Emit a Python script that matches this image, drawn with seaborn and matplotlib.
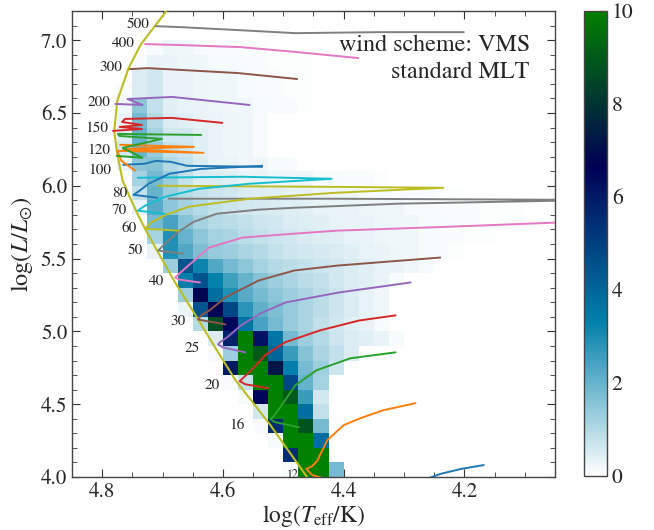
import numpy as np
import matplotlib
matplotlib.use("Agg")
import matplotlib.pyplot as plt
from matplotlib.ticker import MultipleLocator
import seaborn as sns

# ---------------------------------------------------------------- histogram grid
# columns are 0.025 dex wide in log Teff, counted from 4.775 towards cooler
# temperatures; rows are 0.1 dex tall in log L, counted from 4.0 upwards.
T_HOT, DT = 4.775, 0.025
L_LOW, DL = 4.0, 0.1

# log L row edge -> (first column, number of models per cell)
hist_rows = {
    4.0: (11, [0.15, 10, 10, 1.8]),
    4.1: (11, [5.5, 10, 10]),
    4.2: (10, [0.15, 10, 10, 3.8]),
    4.3: (9, [0.1, 5.5, 10, 8.8, 1.8]),
    4.4: (9, [0.6, 10, 10, 3.8, 0.8]),
    4.5: (8, [0.1, 6.5, 10, 9.0, 2.6, 0.6]),
    4.6: (7, [0.1, 0.8, 10, 10, 4.8, 2.0, 1.2]),
    4.7: (7, [6.0, 10, 10, 7.2, 3.4, 1.8, 1.3, 0.7]),
    4.8: (6, [0.1, 1.3, 10, 9.0, 4.0, 2.6, 1.6, 1.1, 0.8, 0.5]),
    4.9: (6, [0.5, 5.8, 10, 6.2, 3.6, 1.8, 1.3, 1.0, 0.7, 0.5, 0.4, 0.3, 0.15]),
    5.0: (5, [1.0, 8.7, 6.5, 3.6, 2.4, 1.8, 1.4, 1.1, 0.8, 0.6, 0.4, 0.3, 0.15]),
    5.1: (4, [0.3, 4.5, 6.8, 4.8, 2.8, 2.1, 1.7, 1.4, 1.1, 0.9, 0.7, 0.5, 0.35, 0.2]),
    5.2: (4, [1.3, 6.8, 3.8, 2.9, 2.2, 1.8, 1.5, 1.3, 1.1, 0.9, 0.7, 0.5, 0.35, 0.2]),
    5.3: (4, [3.4, 4.5, 3.3, 2.5, 2.0, 1.6, 1.3, 1.1, 0.9, 0.8, 0.6, 0.5, 0.4, 0.3, 0.15]),
    5.4: (3, [1.3, 4.5, 3.2, 2.3, 1.8, 1.5, 1.2, 1.0, 0.9, 0.8, 0.7, 0.6, 0.5, 0.4,
              0.35, 0.3, 0.2, 0.15]),
    5.5: (2, [0.3, 2.9, 2.3, 1.7, 1.4, 1.3, 1.1, 1.0, 0.8, 0.7, 0.6, 0.55, 0.5, 0.4,
              0.35, 0.3, 0.25, 0.2, 0.15, 0.1, 0.05]),
    5.6: (2, [1.2, 2.9, 2.0, 1.5, 1.2, 1.1, 0.9, 0.8, 0.7, 0.6, 0.5, 0.45, 0.4, 0.35,
              0.3, 0.25, 0.2, 0.2, 0.15, 0.1, 0.1, 0.05, 0.05]),
    5.7: (2, [1.8, 2.4, 1.6, 1.2, 1.0, 0.9, 0.8, 0.7, 0.6, 0.5, 0.45, 0.4, 0.35, 0.3,
              0.3, 0.25, 0.2, 0.2, 0.15, 0.15, 0.1, 0.1, 0.05, 0.05, 0.05]),
    5.8: (1, [0.3, 2.2, 1.5, 1.2, 1.0, 0.8, 0.7, 0.6, 0.55, 0.5, 0.45, 0.4, 0.35, 0.3,
              0.3, 0.25, 0.2, 0.2, 0.15, 0.15, 0.1, 0.1, 0.1, 0.05, 0.05, 0.05]),
    5.9: (1, [0.8, 2.0, 1.3, 1.0, 0.8, 0.7, 0.6, 0.5, 0.45, 0.4, 0.35, 0.3, 0.25, 0.2,
              0.2, 0.15, 0.15, 0.1, 0.1, 0.1, 0.05, 0.05]),
    6.0: (1, [1.2, 1.8, 1.3, 0.8, 0.5, 0.5, 0.4, 0.3, 0.3, 0.25, 0.2, 0.2, 0.15, 0.15,
              0.1, 0.1, 0.05]),
    6.1: (0, [0.3, 1.5, 1.6, 1.0, 0.8, 0.5, 0.3, 0.3, 0.2, 0.2, 0.15, 0.1]),
    6.2: (0, [0.6, 2.0, 1.4, 0.8, 0.7, 0.4, 0.3, 0.25, 0.2, 0.1]),
    6.3: (0, [0.5, 2.0, 1.2, 0.6, 0.6, 0.4, 0.3, 0.25, 0.2, 0.1]),
    6.4: (0, [0.3, 1.8, 1.0, 0.5, 0.4, 0.35, 0.3, 0.25, 0.2, 0.1]),
    6.5: (0, [0.2, 1.5, 0.8, 0.4, 0.35, 0.3, 0.25, 0.2, 0.2, 0.15, 0.1, 0.1, 0.05]),
    6.6: (0, [0.1, 0.5, 0.6, 0.3, 0.3, 0.25, 0.2, 0.2, 0.15, 0.1, 0.1, 0.05, 0.05]),
    6.7: (1, [0.5, 0.6, 0.3, 0.3, 0.25, 0.2, 0.2, 0.15, 0.1, 0.1, 0.05, 0.05]),
    6.8: (1, [0.1, 0.3, 0.3, 0.25, 0.2, 0.15, 0.15, 0.1, 0.1, 0.05, 0.05, 0.05]),
    6.9: (2, [0.1, 0.25, 0.2, 0.15, 0.1, 0.1, 0.05, 0.05]),
}

# ---------------------------------------------------------------- ZAMS
zams_logT = [4.456, 4.461, 4.522, 4.579, 4.610, 4.638, 4.681, 4.709, 4.729, 4.744,
             4.755, 4.766, 4.775, 4.780, 4.775, 4.756, 4.736, 4.696, 4.686]
zams_logL = [3.970, 4.002, 4.360, 4.664, 4.870, 5.062, 5.349, 5.555, 5.705, 5.829,
             5.930, 6.034, 6.219, 6.377, 6.582, 6.810, 6.970, 7.187, 7.250]

# ---------------------------------------------------------------- tracks
# mass [Msun] -> (log Teff, log L)
tracks_low = {
    10: ([4.276, 4.240, 4.206, 4.168],
         [3.966, 4.021, 4.055, 4.082]),
    12: ([4.414, 4.452, 4.462, 4.452, 4.444, 4.427, 4.400, 4.372, 4.334, 4.281],
         [3.966, 4.014, 4.055, 4.075, 4.110, 4.253, 4.356, 4.404, 4.459, 4.507]),
    16: ([4.474, 4.514, 4.521, 4.516, 4.505, 4.480, 4.445, 4.389, 4.314],
         [4.342, 4.377, 4.397, 4.418, 4.479, 4.630, 4.733, 4.815, 4.856]),
    20: ([4.525, 4.563, 4.572, 4.567, 4.553, 4.530, 4.497, 4.439, 4.374, 4.314],
         [4.610, 4.637, 4.658, 4.678, 4.733, 4.836, 4.925, 5.007, 5.075, 5.110]),
    25: ([4.563, 4.600, 4.608, 4.605, 4.593, 4.570, 4.538, 4.496, 4.408, 4.289],
         [4.856, 4.890, 4.911, 4.925, 4.959, 5.041, 5.123, 5.199, 5.267, 5.336]),
    30: ([4.596, 4.633, 4.641, 4.636, 4.622, 4.596, 4.541, 4.482, 4.410, 4.240],
         [5.048, 5.075, 5.082, 5.110, 5.144, 5.233, 5.349, 5.418, 5.452, 5.507]),
    40: ([4.638, 4.673, 4.679, 4.674, 4.661, 4.623, 4.568, 4.482, 4.410, 4.223,
          4.049, 3.941],
         [5.336, 5.356, 5.370, 5.390, 5.438, 5.575, 5.644, 5.671, 5.692, 5.719,
          5.747, 5.753]),
    50: ([4.666, 4.707, 4.699, 4.676, 4.648, 4.610, 4.541, 4.482, 4.309, 4.049,
          3.941, 4.049, 4.420, 4.690],
         [5.534, 5.555, 5.589, 5.678, 5.753, 5.808, 5.836, 5.849, 5.877, 5.897,
          5.904, 5.904, 5.911, 5.911]),
    60: ([4.673, 4.729, 4.719, 4.694, 4.657, 4.556, 4.413, 4.235, 4.432, 4.708],
         [5.692, 5.705, 5.747, 5.801, 5.856, 5.911, 5.952, 5.986, 5.993, 6.000]),
    70: ([4.696, 4.741, 4.729, 4.695, 4.640, 4.556, 4.420, 4.570, 4.741],
         [5.808, 5.829, 5.863, 5.925, 5.979, 6.014, 6.048, 6.062, 6.055]),
    80: ([4.709, 4.748, 4.738, 4.723, 4.689, 4.636, 4.535],
         [5.918, 5.938, 5.966, 6.014, 6.082, 6.116, 6.137]),
}
tracks_high = {
    100: ([4.765, 4.730, 4.711, 4.686, 4.659, 4.535],
          [6.144, 6.151, 6.171, 6.164, 6.137, 6.130]),
    120: ([4.745, 4.768, 4.775, 4.632, 4.765, 4.648, 4.770],
          [6.103, 6.171, 6.240, 6.226, 6.253, 6.267, 6.281]),
    140: ([4.776, 4.733, 4.766, 4.701, 4.771, 4.774, 4.636],
          [6.205, 6.192, 6.260, 6.322, 6.342, 6.356, 6.349]),
    150: ([4.782, 4.734, 4.771, 4.734, 4.767, 4.762, 4.684, 4.601],
          [6.377, 6.390, 6.404, 6.418, 6.438, 6.459, 6.466, 6.432]),
    200: ([4.778, 4.733, 4.758, 4.684, 4.556],
          [6.562, 6.555, 6.596, 6.610, 6.555]),
    300: ([4.754, 4.725, 4.575, 4.477],
          [6.801, 6.808, 6.774, 6.733]),
    400: ([4.729, 4.668, 4.570, 4.477, 4.376],
          [6.973, 6.966, 6.952, 6.918, 6.877]),
    500: ([4.711, 4.668, 4.575, 4.480, 4.339, 4.201],
          [7.096, 7.089, 7.069, 7.048, 7.055, 7.055]),
}

# mass label -> (right edge log Teff, log L)
mass_labels = {
    "500": (4.721, 7.111), "400": (4.746, 6.980), "300": (4.767, 6.815),
    "200": (4.787, 6.575), "150": (4.790, 6.396), "120": (4.787, 6.245),
    "100": (4.784, 6.108), "80": (4.759, 5.950), "70": (4.759, 5.833),
    "60": (4.742, 5.710), "50": (4.732, 5.559), "40": (4.698, 5.346),
    "30": (4.661, 5.071), "25": (4.638, 4.886), "20": (4.605, 4.631),
    "16": (4.564, 4.357),
}
small_label = ("12", 4.474, 4.012)

# ---------------------------------------------------------------- style
sns.set_style("ticks")
plt.rcParams["font.family"] = ["STIXGeneral", "DejaVu Serif"]
plt.rcParams["mathtext.fontset"] = "stix"

fig = plt.figure(figsize=(6.54, 5.30), dpi=100)
ax = fig.add_axes([0.110, 0.100, 0.7386, 0.8792])
cax = fig.add_axes([0.893, 0.1019, 0.035, 0.8774])

# cell centres weighted by their counts
cell_T, cell_L, cell_n = [], [], []
for row_edge, (first, counts) in hist_rows.items():
    for k, n in enumerate(counts):
        cell_T.append(T_HOT - DT * (first + k + 0.5))
        cell_L.append(row_edge + 0.5 * DL)
        cell_n.append(n)

t_edges = np.round(np.arange(4.05, T_HOT + 0.001, DT), 4)
l_edges = np.round(np.arange(4.0, 7.2001, DL), 4)

sns.histplot(x=cell_T, y=cell_L, weights=cell_n, bins=(t_edges, l_edges),
             cmap="ocean_r", vmin=0, vmax=10, cbar=True, cbar_ax=cax, ax=ax)

mesh = ax.collections[0]
cb = mesh.colorbar
cb.set_ticks(np.arange(0, 11, 2))
cb.ax.yaxis.set_minor_locator(MultipleLocator(0.5))
cb.ax.tick_params(which="both", direction="in", labelsize=15.5, color="#222222")
cb.ax.tick_params(which="major", length=5)
cb.ax.tick_params(which="minor", length=3)
cb.outline.set_edgecolor("#444444")
cb.outline.set_linewidth(1.0)

# ZAMS and tracks
ax.plot(zams_logT, zams_logL, color="#bcbd22", lw=1.5, zorder=3)
palette = sns.color_palette("tab10")
for i, (m, (t, l)) in enumerate(tracks_low.items()):
    ax.plot(t, l, color=palette[i % 10], lw=1.4, zorder=4)
for i, (m, (t, l)) in enumerate(tracks_high.items()):
    ax.plot(t, l, color=palette[i % 10], lw=1.4, zorder=4)

for txt, (t, l) in mass_labels.items():
    ax.text(t, l, txt, ha="right", va="center", fontsize=11, zorder=5)
ax.text(small_label[1], small_label[2], small_label[0], ha="right",
        va="center", fontsize=8.5, zorder=5)

ax.text(0.948, 0.927, "wind scheme: VMS", transform=ax.transAxes,
        ha="right", va="center", fontsize=17.3)
ax.text(0.948, 0.869, "standard MLT", transform=ax.transAxes,
        ha="right", va="center", fontsize=17.3)

ax.set_xlim(4.85, 4.05)
ax.set_ylim(4.0, 7.2)
ax.xaxis.set_major_locator(MultipleLocator(0.2))
ax.xaxis.set_minor_locator(MultipleLocator(0.05))
ax.yaxis.set_major_locator(MultipleLocator(0.5))
ax.yaxis.set_minor_locator(MultipleLocator(0.1))
ax.tick_params(which="both", direction="in", top=True, right=True,
               labelsize=15, color="#333333")
ax.tick_params(which="major", length=6)
ax.tick_params(which="minor", length=3.5)
for s in ax.spines.values():
    s.set_edgecolor("#444444")
    s.set_linewidth(1.0)

ax.set_xlabel(r"log($T_{\rm eff}$/K)", fontsize=17, labelpad=1)
ax.set_ylabel(r"log($L/L_{\odot}$)", fontsize=17.5, labelpad=4)

fig.savefig("out.png", dpi=100)
